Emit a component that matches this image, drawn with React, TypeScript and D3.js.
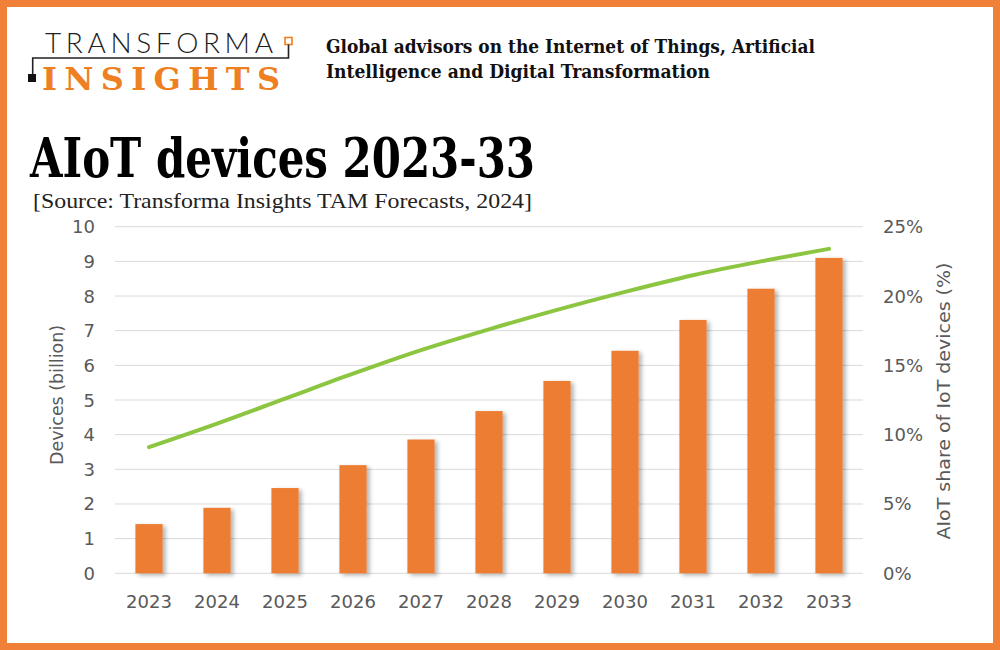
import React from "react";
import * as d3 from "d3";

const years = ["2023","2024","2025","2026","2027","2028","2029","2030","2031","2032","2033"];
const devices = [1.42, 1.89, 2.46, 3.12, 3.86, 4.68, 5.55, 6.42, 7.31, 8.21, 9.10];
const share = [0.091, 0.108, 0.126, 0.144, 0.161, 0.176, 0.190, 0.203, 0.215, 0.225, 0.234];
const leftTicks = [0,1,2,3,4,5,6,7,8,9,10];
const rightTicks = [0,0.05,0.10,0.15,0.20,0.25];

const W = 1000, H = 650;
const plotL = 115, plotR = 863, plotT = 226.7, plotB = 573.3;

export default function App() {
  const x = d3.scaleBand<string>().domain(years).range([plotL, plotR]).paddingInner(0.6).paddingOuter(0.3);
  const yL = d3.scaleLinear().domain([0, 10]).range([plotB, plotT]);
  const yR = d3.scaleLinear().domain([0, 0.25]).range([plotB, plotT]);
  const line = d3.line<number>()
    .x((_, i) => (x(years[i]) as number) + x.bandwidth() / 2)
    .y((d) => yR(d))
    .curve(d3.curveMonotoneX);
  const axisFont = "'DejaVu Sans', Verdana, sans-serif";
  const grey = "#595959";
  return (
    <svg width={W} height={H} style={{ position: "absolute", left: 0, top: 0, background: "#fff" }}>
      <defs>
        <filter id="sh" x="-20%" y="-5%" width="160%" height="115%">
          <feDropShadow dx="3" dy="2" stdDeviation="2" floodColor="#000" floodOpacity="0.3" />
        </filter>
      </defs>
      <rect x={0} y={0} width={W} height={H} fill="#fff" />
      {/* logo */}
      <text x={45} y={53} fontFamily="Lato, 'Open Sans', sans-serif" fontWeight={300} fontSize={28}
        textLength={228} lengthAdjust="spacing" fill="#222">TRANSFORMA</text>
      <rect x={285} y={37.5} width={7} height={7} fill="none" stroke="#ee7f22" strokeWidth={1.6} />
      <path d="M288.5,44.5 V58 H32.7 V75" fill="none" stroke="#222" strokeWidth={1.6} />
      <rect x={28} y={74} width={8} height={8} fill="#111" />
      <text x={42} y={90} fontFamily="'DejaVu Serif', serif" fontWeight="bold" fontSize={32}
        textLength={238} lengthAdjust="spacing" fill="#ee7f22">INSIGHTS</text>
      {/* tagline */}
      <text x={326} y={53} fontFamily="'DejaVu Serif', serif" fontWeight="bold" fontSize={19}
        textLength={489} lengthAdjust="spacingAndGlyphs" fill="#111">Global advisors on the Internet of Things, Artificial</text>
      <text x={326} y={78} fontFamily="'DejaVu Serif', serif" fontWeight="bold" fontSize={19}
        textLength={384} lengthAdjust="spacingAndGlyphs" fill="#111">Intelligence and Digital Transformation</text>
      {/* title */}
      <text x={30} y={177} fontFamily="'DejaVu Serif', serif" fontWeight="bold" fontSize={55}
        textLength={505} lengthAdjust="spacingAndGlyphs" fill="#000">AIoT devices 2023-33</text>
      <text x={33} y={208} fontFamily="'Liberation Serif', serif" fontSize={21}
        textLength={499} lengthAdjust="spacingAndGlyphs" fill="#222">[Source: Transforma Insights TAM Forecasts, 2024]</text>
      {/* grid */}
      {leftTicks.map((t) => (
        <line key={"g" + t} x1={plotL} x2={plotR} y1={yL(t)} y2={yL(t)} stroke="#d9d9d9" strokeWidth={1} />
      ))}
      {/* bars */}
      {devices.map((v, i) => (
        <rect key={"b" + i} x={x(years[i])} y={yL(v)} width={x.bandwidth()} height={yL(0) - yL(v)}
          fill="#ed7d31" filter="url(#sh)" />
      ))}
      {/* line */}
      <path d={line(share) || ""} fill="none" stroke="#8cc540" strokeWidth={4} strokeLinecap="round" strokeLinejoin="round" />
      {/* left ticks */}
      {leftTicks.map((t) => (
        <text key={"l" + t} x={95} y={yL(t) + 6.5} textAnchor="end" fontFamily={axisFont} fontSize={18} fill={grey}>{t}</text>
      ))}
      {rightTicks.map((t) => (
        <text key={"r" + t} x={883} y={yR(t) + 6.5} textAnchor="start" fontFamily={axisFont} fontSize={18} fill={grey}>{d3.format(".0%")(t)}</text>
      ))}
      {years.map((yr) => (
        <text key={"x" + yr} x={(x(yr) as number) + x.bandwidth() / 2} y={608} textAnchor="middle"
          fontFamily={axisFont} fontSize={18} fill={grey}>{yr}</text>
      ))}
      <text transform="translate(63,395) rotate(-90)" textAnchor="middle" fontFamily={axisFont} fontSize={18}
        textLength={140} lengthAdjust="spacingAndGlyphs" fill={grey}>Devices (billion)</text>
      <text transform="translate(950,401) rotate(-90)" textAnchor="middle" fontFamily={axisFont} fontSize={18}
        textLength={277} lengthAdjust="spacingAndGlyphs" fill={grey}>AIoT share of IoT devices (%)</text>
      {/* border */}
      <rect x={3.5} y={3.5} width={W - 7} height={H - 7} fill="none" stroke="#f08038" strokeWidth={7} />
    </svg>
  );
}
